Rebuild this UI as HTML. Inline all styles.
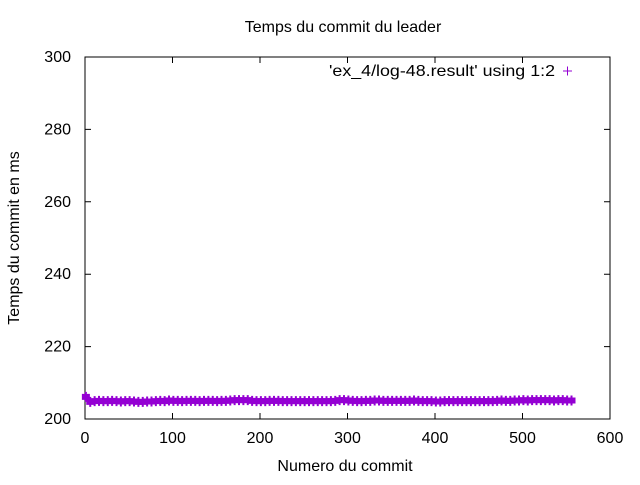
<!DOCTYPE html>
<html><head><meta charset="utf-8"><style>
body{margin:0;background:#fff;}
svg text{font-family:"Liberation Sans",sans-serif;font-size:16px;fill:#000;}
</style></head><body>
<svg width="640" height="480" id="c">
<rect width="640" height="480" fill="#fff"/>
<text x="343" y="32" text-anchor="middle">Temps du commit du leader</text>
<text x="345" y="471" text-anchor="middle">Numero du commit</text>
<text transform="translate(19,238) rotate(-90)" text-anchor="middle">Temps du commit en ms</text>
<g id="ticks"></g>
<rect x="85" y="57" width="525" height="362" fill="none" stroke="#000"/>
<g>
<text x="329" y="76" textLength="226" lengthAdjust="spacingAndGlyphs">'ex_4/log-48.result' using 1:2</text>
<path d="M563,71h9M567.5,66.5v9" stroke="#9400d3"/>
</g>
<g id="pts"></g>
</svg>
<script>
const xTicks=[0,100,200,300,400,500,600];
const yTicks=[200,220,240,260,280,300];
const commitIds=[];for(let i=0;i<112;i++)commitIds.push(1+5*i);
const commitTimes=[206.4,205.0,205.2,205.3,205.2,205.2,205.3,205.2,205.1,205.2,205.2,205.1,205.0,205.0,205.1,205.1,205.2,205.3,205.2,205.4,205.3,205.3,205.2,205.3,205.3,205.3,205.2,205.3,205.3,205.3,205.2,205.3,205.3,205.4,205.5,205.5,205.5,205.5,205.3,205.2,205.2,205.2,205.3,205.3,205.3,205.2,205.2,205.2,205.2,205.2,205.2,205.2,205.2,205.2,205.2,205.2,205.2,205.3,205.5,205.5,205.4,205.3,205.2,205.2,205.3,205.3,205.4,205.4,205.3,205.3,205.3,205.3,205.3,205.3,205.3,205.4,205.3,205.2,205.2,205.2,205.1,205.1,205.2,205.2,205.2,205.2,205.2,205.2,205.2,205.2,205.2,205.2,205.2,205.2,205.3,205.4,205.3,205.3,205.4,205.4,205.5,205.4,205.5,205.5,205.5,205.5,205.5,205.4,205.5,205.5,205.4,205.4];
const X=v=>85+v/600*525, Y=v=>419-(v-200)/100*362;
const NS='http://www.w3.org/2000/svg';
const tg=document.getElementById('ticks'), pg=document.getElementById('pts');
xTicks.forEach(t=>{const x=X(t);
 const p=document.createElementNS(NS,'path');p.setAttribute('d',`M${x},419v-6M${x},57v6`);p.setAttribute('stroke','#000');
 
 tg.appendChild(p);
 const l=document.createElementNS(NS,'text');l.setAttribute('x',x);l.setAttribute('y',443);l.setAttribute('text-anchor','middle');l.textContent=t;
 
 tg.appendChild(l);});
yTicks.forEach(t=>{const y=Y(t);
 const p=document.createElementNS(NS,'path');p.setAttribute('d',`M85,${y}h6M610,${y}h-6`);p.setAttribute('stroke','#000');
 
 tg.appendChild(p);
 const l=document.createElementNS(NS,'text');l.setAttribute('x',71);l.setAttribute('y',y+5);l.setAttribute('text-anchor','end');l.textContent=t;
 
 tg.appendChild(l);});
commitIds.forEach((c,i)=>{const x=X(c),y=Y(commitTimes[i]);
 const p=document.createElementNS(NS,'path');
 p.setAttribute('d',`M${x-4},${y-1}h8M${x-4},${y+1}h8M${x-4},${y+3}h8M${x},${y-4}v10`);
 p.setAttribute('stroke','#9400d3');p.setAttribute('stroke-width','2');
 
 pg.appendChild(p);});
</script>
</body></html>
